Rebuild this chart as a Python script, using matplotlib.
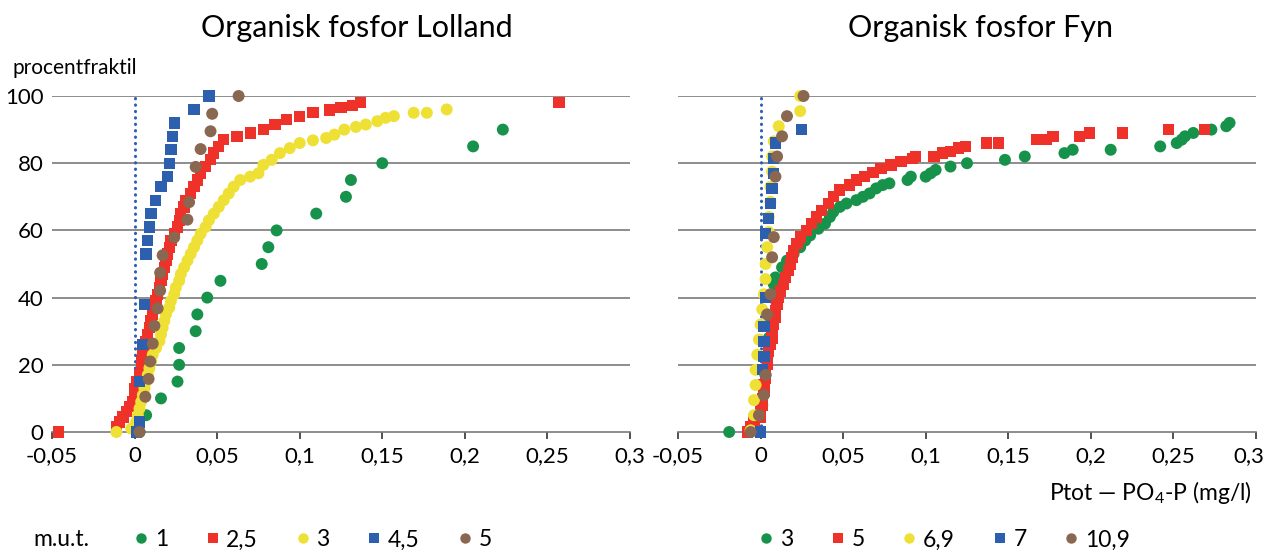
import matplotlib
matplotlib.use("Agg")
import matplotlib.pyplot as plt
import matplotlib.transforms as mtransforms
from matplotlib.lines import Line2D

plt.rcParams['font.family'] = ['Lato', 'DejaVu Sans']
plt.rcParams['mathtext.fontset'] = 'custom'
plt.rcParams['mathtext.rm'] = 'Lato'
plt.rcParams['mathtext.default'] = 'regular'

# ===== data: (x = Ptot - PO4-P mg/l, y = procentfraktil) =====
xticks = [-0.05, 0, 0.05, 0.1, 0.15, 0.2, 0.25, 0.3]
xticklabels = ["-0,05", "0", "0,05", "0,1", "0,15", "0,2", "0,25", "0,3"]
yticks = [0, 20, 40, 60, 80, 100]

# Lolland
lol_labels = ["1", "2,5", "3", "4,5", "5"]

lol1_x = [0.003, 0.007, 0.016, 0.026, 0.027, 0.027, 0.037, 0.038, 0.044, 0.052,
          0.077, 0.081, 0.086, 0.110, 0.128, 0.131, 0.150, 0.205, 0.223]
lol1_y = [0, 5, 10, 15, 20, 25, 30, 35, 40, 45, 50, 55, 60, 65, 70, 75, 80, 85, 90]

lol25_x = [-0.046, -0.011, -0.009, -0.007, -0.005, -0.003, -0.001, 0.000, 0.000, 0.001,
           0.003, 0.004, 0.004, 0.005, 0.006, 0.007, 0.008, 0.009, 0.010, 0.011,
           0.012, 0.013, 0.014, 0.015, 0.016, 0.017, 0.018, 0.019, 0.020, 0.021,
           0.022, 0.024, 0.026, 0.027, 0.028, 0.030, 0.031, 0.034, 0.036, 0.038,
           0.040, 0.043, 0.046, 0.048, 0.051, 0.054, 0.062, 0.070, 0.078, 0.085,
           0.092, 0.100, 0.108, 0.118, 0.125, 0.132, 0.137, 0.257]
lol25_y = [0, 1.5, 3, 4.5, 6, 7.5, 9, 11, 13, 15,
           17, 19, 21, 23, 25, 27, 29, 31, 33, 35,
           37, 39, 41, 43, 45, 47, 49, 51, 53, 55,
           57, 59, 61, 63, 65, 67, 69, 71, 73, 75,
           77, 79, 81, 83, 85, 87, 88, 89, 90, 91.5,
           93, 94, 95, 95.8, 96.5, 97.2, 98, 98]

lol3_x = [-0.011, -0.002, 0.001, 0.002, 0.003, 0.004, 0.005, 0.006, 0.007, 0.008,
          0.009, 0.010, 0.011, 0.013, 0.015, 0.016, 0.017, 0.018, 0.019, 0.021,
          0.022, 0.024, 0.025, 0.027, 0.028, 0.030, 0.032, 0.034, 0.036, 0.038,
          0.040, 0.043, 0.045, 0.048, 0.051, 0.054, 0.057, 0.060, 0.064, 0.070,
          0.075, 0.078, 0.083, 0.088, 0.094, 0.100, 0.108, 0.116, 0.121, 0.127,
          0.134, 0.140, 0.147, 0.152, 0.157, 0.169, 0.177, 0.189]
lol3_y = [0, 1, 3, 5, 7, 9, 11, 13, 15, 17,
          19, 21, 23, 25, 27, 29, 31, 33, 35, 37,
          39, 41, 43, 45, 47, 49, 51, 53, 55, 57,
          59, 61, 63, 65, 67, 69, 71, 73, 75, 76,
          77, 79.5, 81, 83, 84.5, 86, 86.8, 87.5, 88.5, 90,
          90.8, 91.5, 92.5, 93.5, 94, 95, 95, 96]

lol45_x = [0.001, 0.003, 0.003, 0.005, 0.006, 0.007, 0.008, 0.009, 0.010, 0.0125,
           0.016, 0.020, 0.021, 0.022, 0.023, 0.024, 0.036, 0.045]
lol45_y = [0, 3, 15, 26, 38, 53, 57, 61, 65, 69,
           73, 76, 80, 84, 88, 92, 96, 100]

lol5_x = [0.003, 0.0065, 0.0085, 0.0095, 0.011, 0.012, 0.014, 0.0155, 0.0155, 0.017,
          0.024, 0.032, 0.033, 0.037, 0.040, 0.046, 0.047, 0.063]
lol5_y = [0, 10.5, 15.8, 21, 26.3, 31.6, 36.8, 42.1, 47.4, 52.6,
          57.9, 63.2, 68.4, 78.9, 84.2, 89.5, 94.7, 100]

# Fyn
fyn_labels = ["3", "5", "6,9", "7", "10,9"]

fyn3_x = [-0.019, 0.001, 0.002, 0.003, 0.004, 0.005, 0.006, 0.007, 0.008, 0.009,
          0.013, 0.016, 0.020, 0.024, 0.027, 0.030, 0.035, 0.039, 0.042, 0.044,
          0.048, 0.052, 0.058, 0.062, 0.066, 0.070, 0.074, 0.078, 0.089, 0.091,
          0.100, 0.103, 0.106, 0.115, 0.125, 0.148, 0.160, 0.184, 0.189, 0.212,
          0.242, 0.252, 0.255, 0.257, 0.262, 0.273, 0.282, 0.284]
fyn3_y = [0, 8, 12, 17, 22, 28, 34, 40, 44, 46,
          49, 51, 53, 55, 57, 58.5, 60.5, 62, 64, 65.5,
          67, 68, 69, 70, 71, 72.5, 73.5, 74, 75, 76,
          76, 77, 78, 79, 80, 81, 82, 83, 84, 84,
          85, 86, 87, 88, 89, 90, 91, 92]

fyn5_x = [-0.008, -0.006, -0.004, 0.000, 0.000, 0.001, 0.001, 0.002, 0.002, 0.003,
          0.003, 0.004, 0.004, 0.005, 0.006, 0.007, 0.007, 0.008, 0.009, 0.009,
          0.010, 0.011, 0.012, 0.014, 0.015, 0.017, 0.018, 0.019, 0.020, 0.022,
          0.024, 0.028, 0.031, 0.034, 0.037, 0.041, 0.044, 0.048, 0.054, 0.058,
          0.063, 0.068, 0.073, 0.079, 0.085, 0.092, 0.094, 0.105, 0.110, 0.115,
          0.120, 0.124, 0.137, 0.144, 0.167, 0.173, 0.177, 0.193, 0.199, 0.219,
          0.247, 0.269]
fyn5_y = [0, 1.5, 3, 4.5, 6, 8, 10, 12, 14, 16,
          18, 20, 22, 24, 26, 28, 30, 32, 34, 36,
          38, 40, 42, 44, 46, 48, 50, 52, 54, 56,
          58, 60, 62, 64, 66, 68, 70, 72, 73.5, 75,
          76, 77.2, 78.5, 79.5, 80.5, 81.5, 82, 82, 83, 83.5,
          84.5, 85, 86, 86, 87, 87, 88, 88, 89, 89,
          90, 90]

fyn69_x = [-0.006, -0.004, -0.004, -0.003, -0.003, -0.002, -0.001, 0.000, 0.001, 0.002,
           0.003, 0.003, 0.004, 0.005, 0.005, 0.006, 0.006, 0.007, 0.007, 0.008,
           0.011, 0.024, 0.024]
fyn69_y = [0.5, 5, 9.5, 14, 18.5, 23, 27.5, 32, 36.5, 41,
           45.5, 50, 55, 59.5, 64, 68.5, 73, 77.5, 82, 86.5,
           91, 95.5, 100]

fyn7_x = [0.000, 0.001, 0.002, 0.002, 0.002, 0.003, 0.003, 0.005, 0.006, 0.007,
          0.008, 0.008, 0.009, 0.025]
fyn7_y = [0, 18.5, 22.5, 27, 31.5, 40, 59, 63.5, 68, 72.5,
          77, 81.5, 86, 90]

fyn109_x = [-0.006, -0.001, 0.002, 0.003, 0.004, 0.006, 0.007, 0.008, 0.009, 0.010,
            0.013, 0.016, 0.026]
fyn109_y = [0, 5, 11, 17, 35, 41, 52, 58, 76, 82,
            88, 94, 100]

# ===== styles =====
GREEN = "#16924a"
RED = "#ee3229"
YELLOW = "#efe035"
BLUE = "#2c5fae"
BROWN = "#8a6750"
GRID = "#7a7a7a"
markers = ["o", "s", "o", "s", "o"]
colors = [GREEN, RED, YELLOW, BLUE, BROWN]

W, H = 1267, 550
fig = plt.figure(figsize=(W / 100, H / 100), dpi=100)
ax1 = fig.add_axes([52 / W, 118 / H, 578 / W, 336 / H])
ax2 = fig.add_axes([678 / W, 118 / H, 578 / W, 336 / H])

lol_series = [(lol1_x, lol1_y), (lol25_x, lol25_y), (lol3_x, lol3_y),
              (lol45_x, lol45_y), (lol5_x, lol5_y)]
fyn_series = [(fyn3_x, fyn3_y), (fyn5_x, fyn5_y), (fyn69_x, fyn69_y),
              (fyn7_x, fyn7_y), (fyn109_x, fyn109_y)]

for ax, series, show_ylabels in [(ax1, lol_series, True), (ax2, fyn_series, False)]:
    for (xs, ys), m, c in zip(series, markers, colors):
        size = 66 if m == "s" else 74
        ax.scatter(xs, ys, marker=m, s=size, color=c, edgecolors="none",
                   clip_on=False, zorder=3)
    ax.plot([0, 0], [0, 100], color=BLUE, lw=2.2, linestyle=(0, (0.1, 2.0)),
            dash_capstyle="round", zorder=2)
    ax.set_xlim(-0.05, 0.3)
    ax.set_ylim(0, 100)
    for yv in yticks[1:]:
        ax.axhline(yv, color=GRID, lw=1.2, zorder=1)
    for s in ["top", "right", "left"]:
        ax.spines[s].set_visible(False)
    ax.spines["bottom"].set_color(GRID)
    ax.spines["bottom"].set_linewidth(1.2)
    ax.set_xticks(xticks)
    ax.set_xticklabels(xticklabels)
    ax.tick_params(axis="x", direction="out", length=5, width=1.2, color="#333333",
                   labelsize=16, pad=5)
    ax.set_yticks(yticks)
    if show_ylabels:
        ax.set_yticklabels([str(v) for v in yticks])
    else:
        ax.set_yticklabels([])
    ax.tick_params(axis="y", length=0, labelsize=16, pad=6)

# keep the last right-hand tick label inside the figure
last = ax2.get_xticklabels()[-1]
last.set_transform(last.get_transform() +
                   mtransforms.ScaledTranslation(-7 / 100, 0, fig.dpi_scale_trans))

fig.text(357 / W, 1 - 28 / H, "Organisk fosfor Lolland", ha="center", va="center", fontsize=22)
fig.text(980 / W, 1 - 28 / H, "Organisk fosfor Fyn", ha="center", va="center", fontsize=22)
fig.text(12 / W, 1 - 68 / H, "procentfraktil", ha="left", va="center", fontsize=15)
fig.text(1252 / W, 1 - 493 / H, "Ptot — PO$_4$-P (mg/l)", ha="right", va="center", fontsize=16.5)
fig.text(33 / W, 1 - 540 / H, "m.u.t.", ha="left", va="center", fontsize=16.5)


def make_handles(labels):
    return [Line2D([], [], marker=m, color=c, linestyle="none", markersize=7.5,
                   markeredgewidth=0, label=lab)
            for m, c, lab in zip(markers, colors, labels)]


for handles, x0 in [(make_handles(lol_labels), 134), (make_handles(fyn_labels), 759)]:
    fig.legend(handles=handles, ncol=5, loc="center left",
               bbox_to_anchor=(x0 / W, 1 - 540 / H), frameon=False, fontsize=16.5,
               handlelength=0.6, handletextpad=0.3, columnspacing=1.65,
               borderpad=0, borderaxespad=0)

fig.savefig("out.png", dpi=100)
